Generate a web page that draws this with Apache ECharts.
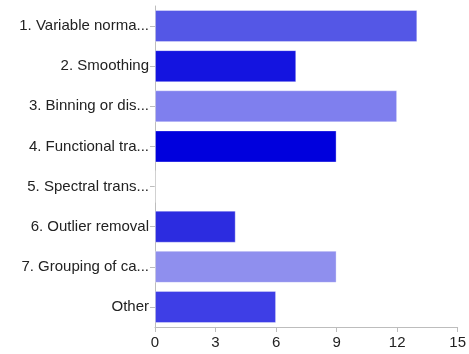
<!DOCTYPE html>
<html>
<head>
<meta charset="utf-8">
<script src="https://cdn.jsdelivr.net/npm/echarts@6/dist/echarts.min.js"></script>
<style>
  html, body { margin: 0; padding: 0; background: #fff; }
  #chart { width: 469px; height: 354px; }
</style>
</head>
<body>
<div id="chart"></div>
<script>
// Answer categories, top to bottom
const categories = [
  '1. Variable norma...',
  '2. Smoothing',
  '3. Binning or dis...',
  '4. Functional tra...',
  '5. Spectral trans...',
  '6. Outlier removal',
  '7. Grouping of ca...',
  'Other'
];
// Response counts per category
const counts = [13, 7, 12, 9, 0, 4, 9, 6];
// Fill colour of each bar
const barColors = ['#5457e6', '#1414e0', '#7f7fee', '#0000dd', '#3030e3', '#2c2ce0', '#8f8fee', '#3e3ee6'];
// Value axis ticks
const xTicks = [0, 3, 6, 9, 12, 15];

const chart = echarts.init(document.getElementById('chart'), null, { renderer: 'canvas' });
const font = 'Liberation Sans, Arial, Helvetica, sans-serif';
const axisGray = '#bdbdbd';

chart.setOption({
  animation: false,
  grid: { left: 155, right: 10, top: 6, bottom: 27, containLabel: false },
  xAxis: {
    type: 'value',
    min: xTicks[0],
    max: xTicks[xTicks.length - 1],
    interval: xTicks[1] - xTicks[0],
    axisLine: { show: true, lineStyle: { color: axisGray, width: 1 } },
    axisTick: { show: true, length: 5, lineStyle: { color: axisGray } },
    axisLabel: { color: '#222', fontFamily: font, fontSize: 15, margin: 8 },
    splitLine: { show: false }
  },
  yAxis: {
    type: 'category',
    inverse: true,
    data: categories,
    axisLine: { show: true, lineStyle: { color: axisGray, width: 1 } },
    axisTick: { show: true, alignWithLabel: true, length: 5, lineStyle: { color: axisGray } },
    axisLabel: { color: '#222', fontFamily: font, fontSize: 15, margin: 6 }
  },
  series: [{
    type: 'bar',
    barCategoryGap: '20%',
    data: counts.map((v, i) => ({
      value: v,
      itemStyle: { color: barColors[i], borderColor: 'rgba(255,255,255,0.35)', borderWidth: 1 }
    }))
  }]
});
</script>
</body>
</html>
